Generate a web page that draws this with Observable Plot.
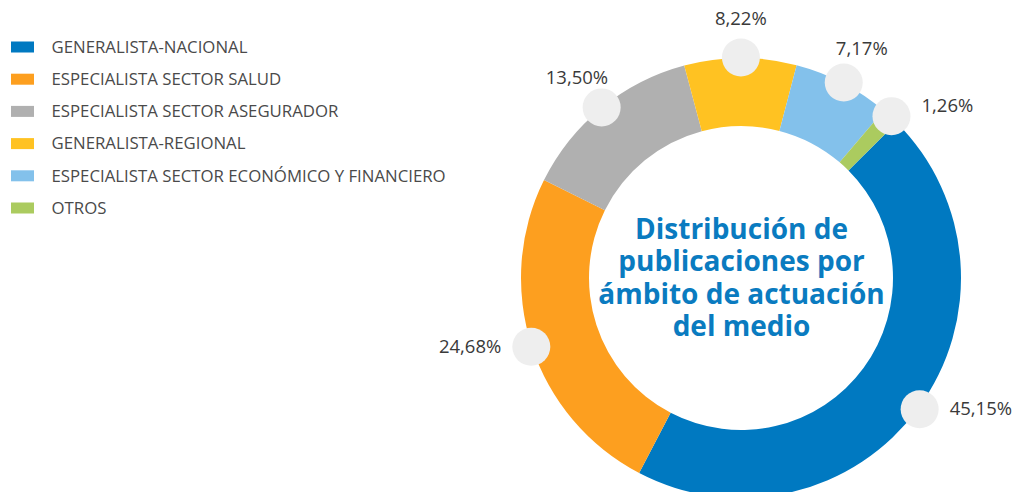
<!DOCTYPE html>
<html>
<head>
<meta charset="utf-8">
<script src="https://cdn.jsdelivr.net/npm/d3@7"></script>
<script src="https://cdn.jsdelivr.net/npm/@observablehq/plot@0.6"></script>
<style>
  html, body { margin: 0; padding: 0; background: #fff; overflow: hidden; }
  #chart svg { display: block; }
</style>
</head>
<body>
<div id="chart"></div>
<script>
// ---- Data ----
const categories = [
  "GENERALISTA-NACIONAL",
  "ESPECIALISTA SECTOR SALUD",
  "ESPECIALISTA SECTOR ASEGURADOR",
  "GENERALISTA-REGIONAL",
  "ESPECIALISTA SECTOR ECONÓMICO Y FINANCIERO",
  "OTROS"
];
const shares = [45.15, 24.68, 13.50, 8.22, 7.17, 1.26];
const shareLabels = ["45,15%", "24,68%", "13,50%", "8,22%", "7,17%", "1,26%"];
const colors = ["#0079c1", "#fd9f1f", "#b0b0b0", "#ffc222", "#83c1eb", "#abcb5f"];
const titleLines = ["Distribución de", "publicaciones por", "ámbito de actuación", "del medio"];

// ---- Layout ----
const W = 1016, H = 492;
const CX = 741, CY = 278;
const R_OUT = 220, R_IN = 152, R_DOT = 221;
const START = 45 * Math.PI / 180;
const TITLE_STEP = 32.5;

const rows = categories.map((c, i) => ({category: c, share: shares[i], label: shareLabels[i], i}));

const pie = d3.pie().sort(null).value(d => d.share).startAngle(START).endAngle(START + 2 * Math.PI);
const arcs = pie(rows).map(a => {
  const mid = (a.startAngle + a.endAngle) / 2;
  const s = Math.sin(mid), c = Math.cos(mid);
  const dx = CX + R_DOT * s, dy = CY - R_DOT * c;
  const side = Math.abs(s) > 0.66;
  return {
    ...a, mid, s, c,
    dotX: dx, dotY: dy,
    anchor: side ? (s > 0 ? "start" : "end") : "middle",
    labX: side ? dx + (s > 0 ? 30 : -30) : CX + 260 * s,
    labY: side ? dy - 14 * Math.max(c, 0) : CY - 259 * c
  };
});

function donut(index, scales) {
  const arcGen = d3.arc().innerRadius(R_IN).outerRadius(R_OUT);
  const g = d3.create("svg:g")
    .attr("transform", `translate(${scales.x(CX)},${scales.y(CY)})`);
  g.selectAll("path").data(arcs).join("path")
    .attr("d", arcGen)
    .attr("fill", d => scales.color ? scales.color(d.data.category) : colors[d.data.i]);
  return g.node();
}

const labelStyle = {fontSize: 18.5, fill: "#3a3a3a"};
const nT = titleLines.length;

const chart = Plot.plot({
  width: W,
  height: H,
  margin: 0,
  x: {domain: [0, W], axis: null},
  y: {domain: [0, H], reverse: true, axis: null},
  color: {domain: categories, range: colors},
  style: {fontFamily: "'Open Sans', sans-serif", background: "#fff"},
  marks: [
    donut,
    Plot.dot(arcs, {x: "dotX", y: "dotY", r: 19, fill: "#eeeeee"}),
    Plot.text(arcs.filter(d => d.anchor === "middle"), {x: "labX", y: "labY", text: d => d.data.label, textAnchor: "middle", ...labelStyle}),
    Plot.text(arcs.filter(d => d.anchor === "start"), {x: "labX", y: "labY", text: d => d.data.label, textAnchor: "start", ...labelStyle}),
    Plot.text(arcs.filter(d => d.anchor === "end"), {x: "labX", y: "labY", text: d => d.data.label, textAnchor: "end", ...labelStyle}),
    Plot.text(titleLines, {x: () => CX, y: (d, i) => CY + (i - (nT - 1) / 2) * TITLE_STEP, text: d => d, fontSize: 28, fontWeight: "bold", fill: "#0a7bc0", textAnchor: "middle"}),
    // legend
    Plot.rect(rows, {x1: () => 11, x2: () => 34, y1: d => 47 + d.i * 32.2 - 5.5, y2: d => 47 + d.i * 32.2 + 5.5, fill: "category"}),
    Plot.text(rows, {x: () => 51, y: d => 47 + d.i * 32.2, text: "category", textAnchor: "start", fontSize: 16.8, fill: "#4a4a4a"})
  ]
});

document.getElementById("chart").appendChild(chart);
</script>
</body>
</html>
